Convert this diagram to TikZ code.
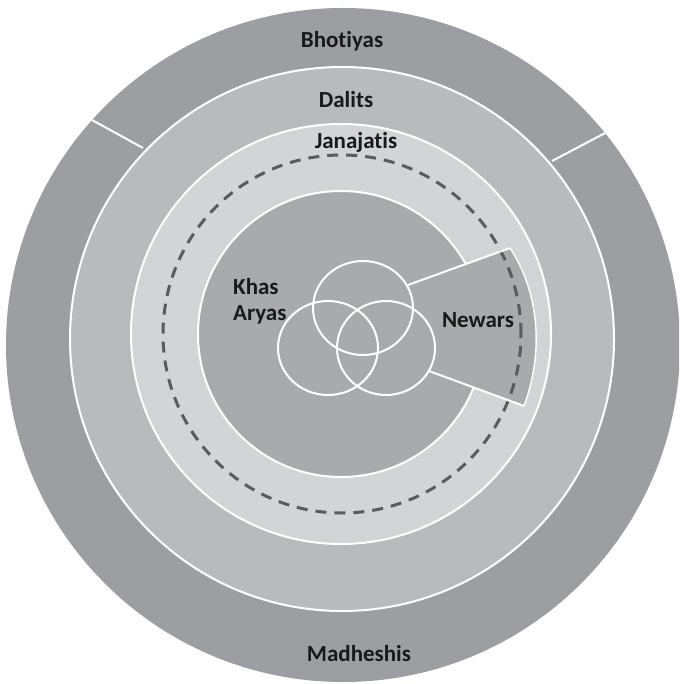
\documentclass[tikz,border=0pt]{standalone}
\usepackage{fontspec}
\setmainfont{Carlito}[Ligatures={NoCommon,NoRare}]
\definecolor{ringA}{RGB}{157,158,162}
\definecolor{ringB}{RGB}{185,186,190}
\definecolor{ringC}{RGB}{211,212,214}
\definecolor{innerc}{RGB}{169,170,173}
\definecolor{dashc}{RGB}{90,91,95}
\definecolor{txt}{RGB}{25,25,25}
\tikzset{
  whiteline/.style={draw=white, line width=2pt},
  lbl/.style={text=txt, font=\bfseries\fontsize{23}{26}\selectfont, inner sep=0pt},
}
\begin{document}
\begin{tikzpicture}[x=1pt,y=-1pt]
\useasboundingbox (0,0) rectangle (679,684);
\clip (0,0) rectangle (679,684);
\fill[white] (0,0) rectangle (679,684);
% outer ring
\fill[ringA] (343,345) circle (337pt);
% dividers
\coordinate (dl1) at (92,120);
\coordinate (dl2) at (143,148);
\coordinate (dr1) at (552,161);
\coordinate (dr2) at (609,131);
\draw[whiteline] (dl1) -- (dl2);
\draw[whiteline] (dr1) -- (dr2);
% Dalits ring
\filldraw[fill=ringB, whiteline] (342,339) circle (272pt);
% Janajatis ring
\filldraw[fill=ringC, whiteline] (341,334) circle (210pt);
% inner disk
\filldraw[fill=innerc, whiteline] (341,334) circle (143pt);
% Newars sector
\coordinate (s1) at (408,285);
\coordinate (s2) at (510,248);
\coordinate (s3) at (524,406);
\coordinate (s4) at (429,371);
\fill[innerc] (s1) -- (s2) .. controls (533,283) and (548,340) .. (s3) -- (s4) -- cycle;
% dashed circle
\draw[dashc, line width=3pt, dash pattern=on 11pt off 8pt] (342,334) circle (179pt);
% sector edges
\draw[whiteline] (s1) -- (s2);
\draw[whiteline] (s4) -- (s3);
\draw[white, line width=1.4pt] (s2) .. controls (533,283) and (548,340) .. (s3);
% Venn circles
\draw[whiteline] (363,308) ellipse (50pt and 47pt);
\draw[whiteline] (328,348) ellipse (50pt and 47pt);
\draw[whiteline] (386,348) ellipse (49pt and 47pt);
% labels
\node[lbl] (bhot) at (342,41) {Bhotiyas};
\node[lbl] (dal) at (346,100) {Dalits};
\node[lbl] (jan) at (356,142) {Janajatis};
\node[lbl] (mad) at (359,654) {Madheshis};
\node[lbl, anchor=west, align=left] (khas) at (233,301) {Khas\\Aryas};
\node[lbl] (new) at (478,320) {Newars};
\end{tikzpicture}
\end{document}
